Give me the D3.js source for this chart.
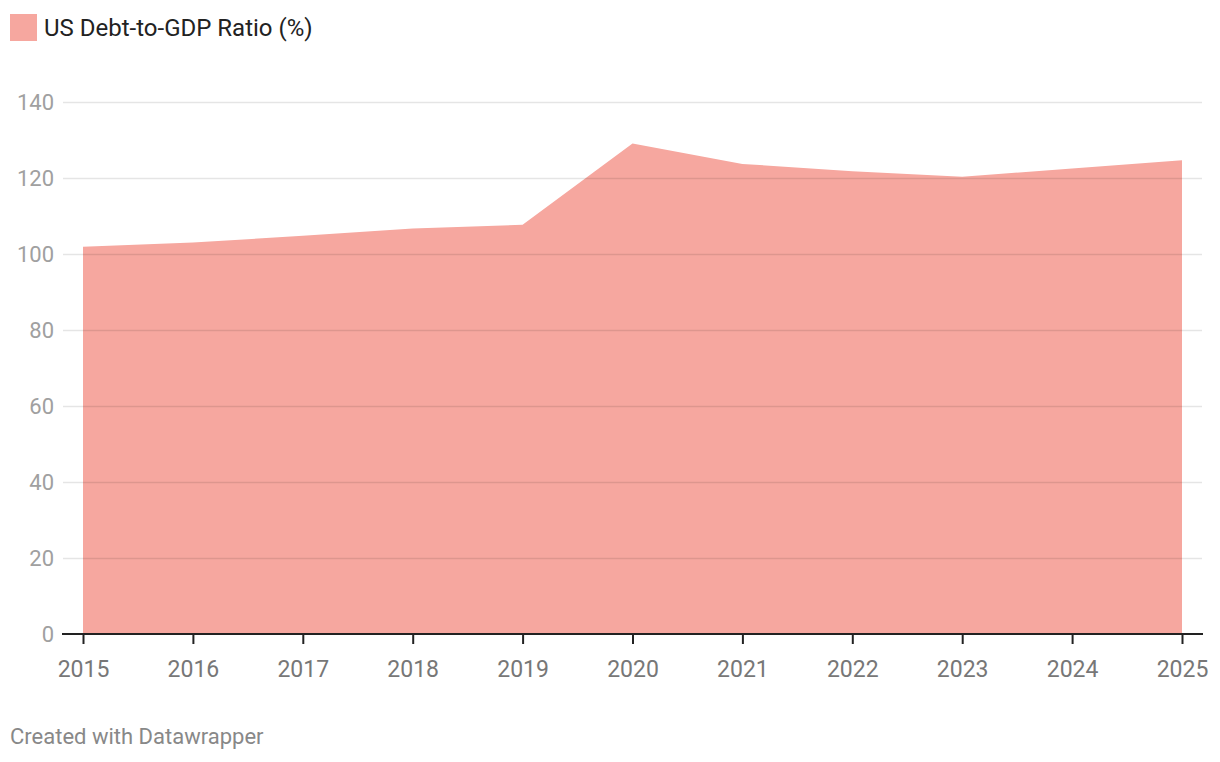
<!DOCTYPE html>
<html><head><meta charset="utf-8">
<script src="https://cdn.jsdelivr.net/npm/d3@7"></script>
<style>body{margin:0;background:#fff;font-family:Roboto,"Noto Sans",sans-serif;}</style>
</head><body><svg id="c" width="1220" height="762"></svg>
<script>
const years = [2015,2016,2017,2018,2019,2020,2021,2022,2023,2024,2025];
const debtRatio = [101.9,103.0,104.8,106.7,107.7,129.1,123.7,121.8,120.3,122.5,124.7];
const yTicks = [0,20,40,60,80,100,120,140];
const seriesName = "US Debt-to-GDP Ratio (%)";

const svg = d3.select("#c");
const x = d3.scaleLinear().domain([2015,2025]).range([83,1182]);
const y = d3.scaleLinear().domain([0,140]).range([634,102]);

// area
svg.append("path")
  .datum(years.map((yr,i)=>[yr,debtRatio[i]]))
  .attr("fill","#f6a79f")
  .attr("d", d3.area().x(d=>x(d[0])).y0(y(0)).y1(d=>y(d[1])));

// gridlines + y labels
const yAxis = d3.axisLeft(y).tickValues(yTicks).tickSize(-(1202-63)).tickFormat(d3.format("d"));
const gy = svg.append("g").attr("transform","translate(63,0)").call(yAxis);
gy.select(".domain").remove();
gy.selectAll(".tick line").attr("stroke","rgba(0,0,0,0.1)").attr("stroke-width",1.5)
  .filter(d=>d===0).remove();
gy.selectAll(".tick text").attr("x",-9).attr("fill","#a0a0a0")
  .style("font-family","Roboto").style("font-size","22px").attr("dy","0.35em");

// x axis
const xAxis = d3.axisBottom(x).tickValues(years).tickSize(10).tickSizeOuter(0).tickFormat(d3.format("d"));
const gx = svg.append("g").attr("transform","translate(0,634)").call(xAxis);
gx.select(".domain").attr("d","M62,0H1203").attr("stroke","#222").attr("stroke-width",2);
gx.selectAll(".tick line").attr("stroke","#222").attr("stroke-width",2);
gx.selectAll(".tick text").attr("y",27).attr("fill","#777")
  .style("font-family","Roboto").style("font-size","23px").attr("dy","0.71em");

// legend
svg.append("rect").attr("x",10).attr("y",14).attr("width",27).attr("height",27).attr("fill","#f6a79f");
svg.append("text").attr("x",44).attr("y",36).text(seriesName)
  .attr("fill","#222").style("font-family","Roboto").style("font-size","24px");

// footer
svg.append("text").attr("x",10).attr("y",744).text("Created with Datawrapper")
  .attr("fill","#888").style("font-family","Roboto").style("font-size","22px");
</script></body></html>
